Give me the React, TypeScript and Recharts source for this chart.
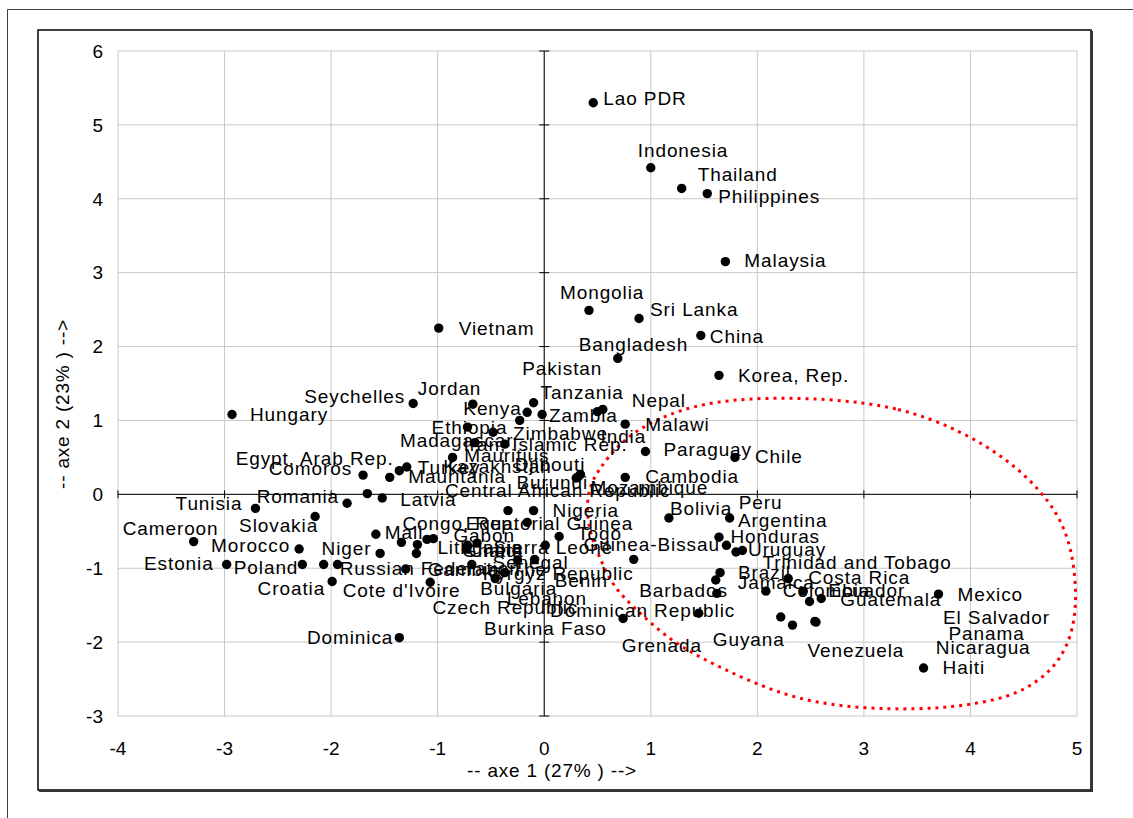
import React from 'react';
import {
  ComposedChart, Scatter, Line, XAxis, YAxis, CartesianGrid, ReferenceLine, ReferenceDot,
} from 'recharts';

// ---- data ----
const countries = [
  'Lao PDR', 'Indonesia', 'Thailand', 'Philippines', 'Malaysia', 'Mongolia', 'Sri Lanka', 'China',
  'Bangladesh', 'Korea, Rep.', 'Vietnam', 'Pakistan',
  'Hungary', 'Seychelles', 'Jordan', 'Comoros', 'Egypt, Arab Rep.', 'Mauritania', 'Turkey', 'Romania',
  'Latvia', 'Kazakhstan', 'Tunisia', 'Slovakia', 'Cameroon', 'Morocco', 'Estonia', 'Poland', 'Niger',
  'Croatia', "Cote d'Ivoire", 'Gambia, The', 'Russian Federation', 'Dominica', 'Mali', 'Congo, Rep.',
  'Lithuania', 'Gabon', 'Ghana', '', '',
  'Tanzania', 'Zambia', 'Kenya', 'Nepal', 'Malawi', 'Zimbabwe', 'India', 'Ethiopia', 'Madagascar',
  'Iran, Islamic Rep.', 'Mauritius', 'Paraguay', 'Chile', 'Djibouti', 'Cambodia', 'Burundi', 'Mozambique',
  'Central African Republic', 'Nigeria', 'Equatorial Guinea', 'Togo', 'Sierra Leone', 'Guinea-Bissau',
  'Senegal', 'Kyrgyz Republic', 'Benin', 'Bulgaria', 'Lebanon', 'Czech Republic', 'Burkina Faso', 'Chad',
  'Dominican Republic', 'Grenada',
  'Bolivia', 'Peru', 'Argentina', 'Honduras', 'Uruguay', 'Trinidad and Tobago', 'Brazil', 'Jamaica',
  'Barbados', 'Colombia', 'Costa Rica', 'Ecuador', 'Guatemala', 'Mexico', 'Haiti', 'Guyana', 'Venezuela',
  'El Salvador', 'Panama', 'Nicaragua',
];

const axe1 = [
  0.46, 1.0, 1.29, 1.53, 1.7, 0.42, 0.89, 1.47, 0.69, 1.64, -0.99, -0.16,
  -2.93, -1.23, -0.67, -1.7, -1.45, -1.36, -1.29, -1.85, -1.52, -1.66, -2.71, -2.15, -3.29, -2.3, -2.98,
  -2.27, -1.94, -1.99, -2.07, -1.3, -1.07, -1.36, -1.58, -1.34, -1.19, -1.04, -1.1, -1.54, -1.2,
  -0.1, -0.02, -0.23, 0.55, 0.76, -0.48, 0.5, -0.72, -0.65, -0.86, -0.37, 0.95, 1.79, 0.32, 0.76, 0.3, 0.34,
  -0.34, -0.1, -0.16, 0.14, 0.01, 0.84, -0.25, -0.09, -0.37, -0.46, -0.68, -0.72, -0.63, -0.73, 0.74, 1.45,
  1.17, 1.74, 1.64, 1.71, 1.8, 1.86, 1.65, 1.61, 1.62, 2.08, 2.29, 2.43, 2.6, 3.7, 3.56, 2.22, 2.33, 2.55,
  2.49, 2.54,
];

const axe2 = [
  5.3, 4.42, 4.14, 4.07, 3.15, 2.49, 2.38, 2.15, 1.84, 1.61, 2.25, 1.11,
  1.08, 1.23, 1.22, 0.26, 0.23, 0.32, 0.37, -0.12, -0.05, 0.01, -0.19, -0.3, -0.64, -0.74, -0.95,
  -0.95, -0.95, -1.18, -0.95, -1.01, -1.19, -1.94, -0.54, -0.65, -0.68, -0.6, -0.61, -0.8, -0.8,
  1.24, 1.08, 1.0, 1.15, 0.95, 0.84, 1.12, 0.91, 0.7, 0.5, 0.68, 0.58, 0.5, 0.24, 0.23, 0.22, 0.27,
  -0.22, -0.22, -0.38, -0.57, -0.69, -0.88, -0.89, -0.88, -1.06, -1.14, -0.95, -0.69, -0.66, -0.74, -1.68, -1.61,
  -0.32, -0.32, -0.58, -0.69, -0.78, -0.76, -1.06, -1.16, -1.34, -1.31, -1.14, -1.31, -1.41, -1.35, -2.35,
  -1.66, -1.77, -1.73, -1.45, -1.72,
];

// outline of the red dotted ellipse, read around the picture
const ellipseAxe1 = [
  2.66, 3.34, 3.9, 4.37, 4.75, 4.94, 5.0, 4.97, 4.84, 4.65, 4.37, 3.9, 3.51, 2.97, 2.4, 1.91, 1.46, 1.15,
  0.87, 0.65, 0.53, 0.44, 0.4, 0.41, 0.5, 0.71, 0.97, 1.37, 1.91,
];
const ellipseAxe2 = [
  1.3, 1.18, 0.87, 0.46, -0.08, -0.62, -1.3, -1.84, -2.25, -2.52, -2.75, -2.87, -2.91, -2.9, -2.79, -2.52,
  -2.21, -1.94, -1.57, -1.26, -0.89, -0.58, -0.26, 0.05, 0.32, 0.7, 0.96, 1.2, 1.31,
];

const xTicks = [-4, -3, -2, -1, 0, 1, 2, 3, 4, 5];
const yTicks = [-3, -2, -1, 0, 1, 2, 3, 4, 5, 6];

// label placement (text anchor, dx, dy in px relative to the dot)
const labelPlacement: Record<string, [string, number, number]> = {
  'Lao PDR': ['start', 10, -4], Indonesia: ['start', -13, -17], Thailand: ['start', 16, -14],
  Philippines: ['start', 11, 3], Malaysia: ['start', 19, -1], Mongolia: ['start', -29, -18],
  'Sri Lanka': ['start', 11, -9], China: ['start', 9, 1], Bangladesh: ['start', -39, -14],
  'Korea, Rep.': ['start', 19, 0], Vietnam: ['start', 20, 0], Pakistan: ['start', -5, -44],
  Hungary: ['start', 18, 0], Seychelles: ['end', -8, -7], Jordan: ['start', -55, -16],
  Comoros: ['end', -11, -7], 'Egypt, Arab Rep.': ['end', 4, -19], Mauritania: ['start', 9, 6],
  Turkey: ['start', 11, 1], Romania: ['end', -8, -7], Latvia: ['start', 18, 1], Kazakhstan: ['start', 76, -27],
  Tunisia: ['end', -13, -5], Slovakia: ['end', 3, 9], Cameroon: ['start', -71, -13], Morocco: ['end', -9, -4],
  Estonia: ['end', -13, -1], Poland: ['end', -4, 3], Niger: ['middle', 9, -16], Croatia: ['end', -7, 7],
  "Cote d'Ivoire": ['start', 19, 26], 'Gambia, The': ['start', 22, 1], 'Russian Federation': ['middle', 0, -14],
  Dominica: ['end', -6, 0], Mali: ['start', 9, -2], 'Congo, Rep.': ['start', 1, -19], Lithuania: ['start', 20, 3],
  Gabon: ['start', 20, -3], Ghana: ['start', 35, 11],
  Tanzania: ['start', 7, -10], Zambia: ['start', 7, 1], Kenya: ['end', 2, -12], Nepal: ['start', 29, -9],
  Malawi: ['start', 20, 0], Zimbabwe: ['start', 20, 1], India: ['start', 3, 25], Ethiopia: ['middle', 2, 0],
  Madagascar: ['start', -75, -2], 'Iran, Islamic Rep.': ['start', 11, -13], Mauritius: ['middle', 2, 11],
  Paraguay: ['start', 18, -2], Chile: ['start', 20, -1], Djibouti: ['end', 7, -12], Cambodia: ['start', 20, -1],
  Burundi: ['end', 12, 4], Mozambique: ['start', 10, 13],
  'Central African Republic': ['start', -63, -20], Nigeria: ['start', 19, 0], 'Equatorial Guinea': ['end', 106, 1],
  Togo: ['start', 18, -3], 'Sierra Leone': ['middle', 8, 2], 'Guinea-Bissau': ['middle', 18, -15],
  Senegal: ['start', -25, 2], 'Kyrgyz Republic': ['end', 99, 14], Benin: ['start', 50, 8],
  Bulgaria: ['start', -15, 10], Lebanon: ['start', 35, 34], 'Czech Republic': ['start', -35, 62],
  'Burkina Faso': ['start', 7, 85], Chad: ['start', 2, 1], 'Dominican Republic': ['start', -73, -8],
  Grenada: ['start', -77, 32],
  Bolivia: ['start', 1, -9], Peru: ['start', 9, -15], Argentina: ['start', 19, -17], Honduras: ['start', 4, -9],
  Uruguay: ['start', 12, -2], 'Trinidad and Tobago': ['start', 20, 12], Brazil: ['start', 18, 0],
  Jamaica: ['start', 22, 2], Barbados: ['end', 11, -3], Colombia: ['start', 17, -1], 'Costa Rica': ['start', 20, -1],
  Ecuador: ['start', 25, -1], Guatemala: ['start', 19, 1], Mexico: ['start', 19, 0], Haiti: ['start', 19, 0],
  Guyana: ['start', -68, 23], Venezuela: ['start', 15, 25], 'El Salvador': ['start', 127, -5],
  Panama: ['start', 139, 32], Nicaragua: ['start', 121, 26],
};

const points = countries.map((name, i) => ({ name, x: axe1[i], y: axe2[i] }));
const ellipse = ellipseAxe1.map((x, i) => ({ x, y: ellipseAxe2[i] }));

const FONT = '"Liberation Sans", Arial, sans-serif';

const DotShape = (props: any) => (
  <circle cx={props.cx} cy={props.cy} r={4.7} fill="#000" />
);

const LabelShape = (props: any) => {
  const { cx, cy, payload } = props;
  const p = labelPlacement[payload.name];
  if (!p || !payload.name) return <g />;
  const [anchor, dx, dy] = p;
  return (
    <text
      x={cx + dx}
      y={cy + dy}
      textAnchor={anchor as any}
      dominantBaseline="central"
      fontFamily={FONT}
      fontSize={19}
      letterSpacing={0.9}
      fill="#000"
    >
      {payload.name}
    </text>
  );
};

const VTick = (props: any) => (
  <line x1={props.cx} x2={props.cx} y1={props.cy - 4} y2={props.cy + 4} stroke="#000" strokeWidth={1} />
);
const HTick = (props: any) => (
  <line x1={props.cx - 5} x2={props.cx + 5} y1={props.cy} y2={props.cy} stroke="#000" strokeWidth={1} />
);

export default function App() {
  return (
    <div style={{ position: 'absolute', left: 0, top: 0, width: 1133, height: 818, background: '#fff' }}>
      <svg width={1133} height={818} style={{ position: 'absolute', left: 0, top: 0 }}>
        <line x1={7.5} y1={9.5} x2={1133} y2={9.5} stroke="#404040" strokeWidth={1} />
        <line x1={7.5} y1={9.5} x2={7.5} y2={818} stroke="#404040" strokeWidth={1} />
        <rect x={38} y={30} width={1053} height={760} fill="#fff" stroke="#000" strokeWidth={1.5} />
        <line x1={39} y1={791} x2={1092} y2={791} stroke="#333" strokeWidth={2} />
        <line x1={1092} y1={31} x2={1092} y2={792} stroke="#333" strokeWidth={2} />
        <text x={552} y={770} textAnchor="middle" dominantBaseline="central" fontFamily={FONT} fontSize={19}
          letterSpacing={0.8} fill="#000">-- axe 1 (27% ) --&gt;</text>
        <text x={0} y={0} transform="translate(62,404) rotate(-90)" textAnchor="middle" dominantBaseline="central"
          fontFamily={FONT} fontSize={19} letterSpacing={0.8} fill="#000">-- axe 2 (23% ) --&gt;</text>
      </svg>
      <div style={{ position: 'absolute', left: 0, top: 0 }}>
        <ComposedChart width={1133} height={818} margin={{ top: 51, right: 56, bottom: 52, left: 58 }}>
          <CartesianGrid stroke="#c8c8c8" strokeWidth={1} horizontal vertical />
          <XAxis
            type="number"
            dataKey="x"
            domain={[-4, 5]}
            ticks={xTicks}
            interval={0}
            height={50}
            axisLine={false}
            tickLine={false}
            tickSize={0}
            tickMargin={26}
            tick={{ fontFamily: FONT, fontSize: 19, fill: '#000' }}
          />
          <YAxis
            type="number"
            dataKey="y"
            domain={[-3, 6]}
            ticks={yTicks}
            interval={0}
            width={60}
            axisLine={false}
            tickLine={false}
            tickSize={0}
            tickMargin={15}
            tick={{ fontFamily: FONT, fontSize: 19, fill: '#000' }}
          />
          <ReferenceLine x={0} stroke="#000" strokeWidth={1} />
          <ReferenceLine y={0} stroke="#000" strokeWidth={1} />
          {xTicks.map((t) => (
            <ReferenceDot key={'xt' + t} x={t} y={0} r={0} shape={VTick} />
          ))}
          {yTicks.map((t) => (
            <ReferenceDot key={'yt' + t} x={0} y={t} r={0} shape={HTick} />
          ))}
          <Scatter data={points} dataKey="y" shape={DotShape} isAnimationActive={false} />
          <Scatter data={points} dataKey="y" shape={LabelShape} isAnimationActive={false} />
          <Line
            data={ellipse}
            dataKey="y"
            type="basisClosed"
            stroke="#ff0000"
            strokeWidth={3}
            strokeDasharray="3 5"
            dot={false}
            activeDot={false}
            isAnimationActive={false}
          />
        </ComposedChart>
      </div>
    </div>
  );
}
